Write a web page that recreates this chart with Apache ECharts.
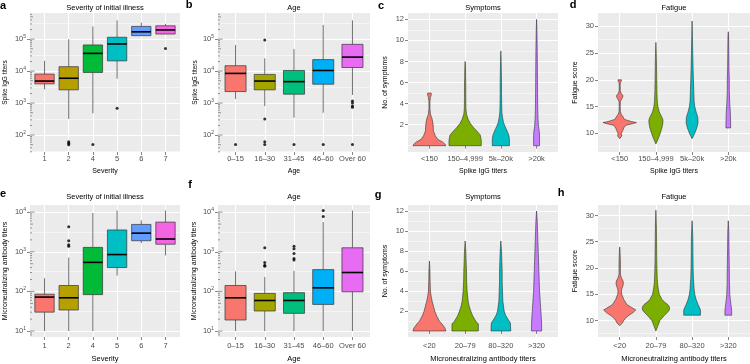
<!DOCTYPE html>
<html><head><meta charset="utf-8">
<script src="https://cdn.jsdelivr.net/npm/echarts@6/dist/echarts.min.js"></script>
<style>html,body{margin:0;padding:0;background:#fff}#c{width:750px;height:364px}</style>
</head><body><div id="c"></div>
<script>
// ---------- categories ----------
const severityCats = ['1', '2', '4', '5', '6', '7'];
const ageCats = ['0–15', '16–30', '31–45', '46–60', 'Over 60'];
const spikeGroupCats = ['<150', '150–4,999', '5k–20k', '>20k'];
const neutGroupCats = ['<20', '20–79', '80–320', '>320'];

// ---------- box statistics [min, Q1, median, Q3, max] (titers) ----------
const spikeIgGBySeverity = [
  [2700, 4000, 4900, 8100, 21000],
  [320, 2600, 6000, 13800, 100000],
  [480, 9100, 36000, 66000, 250000],
  [5800, 21000, 71000, 115000, 390000],
  [126000, 129000, 170000, 251000, 331000],
  [145000, 145000, 195000, 263000, 302000]
];
const spikeIgGBySeverityOutliers = [['2', 62], ['2', 55], ['2', 50], ['4', 51], ['5', 690], ['7', 51000]];

const spikeIgGByAge = [
  [1350, 2300, 8500, 14800, 66000],
  [810, 2600, 4900, 7900, 25000],
  [350, 1900, 4700, 10500, 49000],
  [500, 3900, 10500, 23000, 280000],
  [1800, 13000, 27500, 69000, 390000]
];
const spikeIgGByAgeOutliers = [['0–15', 51], ['16–30', 95000], ['16–30', 320], ['16–30', 62], ['16–30', 51],
  ['31–45', 51], ['46–60', 51], ['Over 60', 1170], ['Over 60', 1000], ['Over 60', 810], ['Over 60', 740], ['Over 60', 51]];

const neutBySeverity = [
  [10, 30, 72, 85, 215],
  [10, 34, 69, 141, 710],
  [10, 83, 540, 1290, 9500],
  [250, 400, 850, 3550, 11000],
  [1660, 1900, 2950, 4900, 6200],
  [810, 1550, 2100, 5600, 11000]
];
const neutBySeverityOutliers = [['2', 4300], ['2', 1900], ['2', 1500], ['2', 1380]];

const neutByAge = [
  [10, 19, 69, 141, 320],
  [10, 32, 59, 89, 230],
  [10, 28, 59, 93, 330],
  [10, 47, 123, 355, 5600],
  [10, 98, 300, 1260, 11000]
];
const neutByAgeOutliers = [['16–30', 1260], ['16–30', 540], ['16–30', 460], ['16–30', 430],
  ['31–45', 1380], ['31–45', 1200], ['31–45', 910], ['31–45', 680], ['31–45', 620],
  ['46–60', 11000], ['46–60', 7800]];

// ---------- violin profiles: [value, relative density] ----------
const symptomsBySpikeIgG = [
  [[0, 50], [0.12, 48], [0.35, 40], [0.6, 25], [0.93, 18], [1.4, 12], [2.05, 11], [2.55, 8], [3.0, 3], [3.5, 1.5], [4.2, 1.5], [4.6, 3], [4.85, 6], [5.0, 5]],
  [[0, 49], [0.5, 49], [1.0, 46], [1.3, 38], [1.7, 26], [2.1, 16], [2.5, 9], [3.0, 4], [3.5, 2.5], [4.5, 2], [5.5, 2], [6.5, 1.5], [7.5, 1], [8, 0]],
  [[0, 26], [0.6, 26], [1.0, 24], [1.4, 19], [1.8, 13], [2.2, 8], [2.7, 5], [3.2, 3], [4, 2.5], [5, 2], [6, 2], [7, 1.5], [8, 1], [9, 0]],
  [[0, 9], [1.0, 9], [1.4, 8], [1.8, 6], [2.5, 4.5], [3.5, 3.5], [5, 3], [7, 2.5], [9, 2], [11, 1], [12, 0]]
];
const fatigueBySpikeIgG = [
  [[9, 0], [9.5, 6], [10, 5], [10.5, 9], [11, 12], [11.5, 18], [11.8, 38], [12, 50], [12.2, 35], [12.6, 14], [13, 11], [13.5, 5], [14, 2], [15, 1.5], [16, 2], [16.5, 7], [17, 10], [17.5, 4], [18, 1.5], [19, 1.5], [19.5, 2], [19.8, 5], [20, 5]],
  [[8, 0], [9, 7], [10, 13], [11, 18], [12, 21], [12.5, 21], [13, 18], [14, 10], [15, 6], [16, 4], [18, 3], [20, 2.5], [22, 2], [24, 1.5], [27, 0]],
  [[9, 0], [10, 8], [11, 14], [12, 18], [13, 17], [14, 12], [15, 8], [16, 6], [18, 5], [20, 4], [22, 3], [25, 2], [28, 1], [31, 0]],
  [[11, 7], [12, 7], [13, 6.5], [14, 6], [15, 5], [16, 4], [18, 3], [20, 3], [22, 2], [25, 1.5], [28, 1], [29, 0]]
];
const symptomsByNeut = [
  [[0, 50], [0.3, 47], [0.7, 38], [1.0, 30], [1.5, 22], [2.0, 16], [2.5, 12], [3.0, 8], [3.5, 5], [4.0, 3], [5.0, 2], [6.0, 1.5], [7.0, 0]],
  [[0, 40], [0.7, 40], [1.0, 32], [1.5, 23], [2.0, 17], [2.5, 12], [3.0, 9], [4.0, 6], [5.0, 4.5], [6.0, 4], [7.0, 3], [8.0, 2], [9.0, 0]],
  [[0, 30], [0.8, 29], [1.2, 21], [1.6, 14], [2.0, 10], [3.0, 6], [4.0, 5], [5.0, 4], [6.0, 4], [7.0, 3], [8.0, 2], [9.0, 0]],
  [[0, 15.5], [1.0, 15], [2.0, 13], [3.0, 11], [4.0, 9], [5.0, 8], [6.0, 7], [7.0, 6], [8.0, 5], [9.0, 4], [10.0, 3], [11.0, 2], [12.0, 0]]
];
const fatigueByNeut = [
  [[9, 0], [9.5, 8], [10, 12], [10.5, 18], [11, 28], [11.5, 40], [12, 48], [12.5, 35], [13, 22], [14, 12], [15, 6], [15.5, 5], [16, 6], [16.5, 9], [17, 11], [17.5, 10], [18, 6], [18.5, 3], [19, 2], [21, 2], [23, 1], [24, 0]],
  [[8, 0], [9, 6], [10, 12], [11, 26], [11.5, 34], [12, 40], [12.5, 41], [13, 36], [13.5, 26], [14, 18], [15, 10], [16, 7], [17, 5], [18, 4], [20, 3], [22, 2.5], [25, 2], [28, 1.5], [31, 0]],
  [[11, 25], [12, 25], [12.5, 22], [13, 18], [14, 12], [15, 8], [16, 6], [18, 4], [20, 3], [23, 2.5], [26, 2], [29, 0]],
  [[11, 10], [12, 10], [13, 8], [14, 6], [15, 4.5], [17, 3.5], [20, 3], [24, 2], [27, 1.5], [29, 0]]
];

// ---------- axis breaks ----------
const symptomMajor = [2, 4, 6, 8, 10, 12];
const symptomMinor = [0, 1, 3, 5, 7, 9, 11];
const fatigueMajor = [10, 15, 20, 25, 30];
const fatigueMinor = [7.5, 12.5, 17.5, 22.5, 27.5];

// ---------- styling ----------
const FONT = '"Liberation Sans", Arial, Helvetica, sans-serif';
const hue6 = ['#F8766D', '#B79F00', '#00BA38', '#00BFC4', '#619CFF', '#F564E3'];
const hue5 = ['#F8766D', '#A3A500', '#00BF7D', '#00B0F6', '#E76BF3'];
const hue4 = ['#F8766D', '#7CAE00', '#00BFC4', '#C77CFF'];
const DENS_SCALE = 1 / 108.3;

const row1 = { top: 13, height: 139, titleY: 8, xMargin: 3, xNameGap: 16, tickFont: 7.5, nameFont: 7 };
const row2 = { top: 205, height: 134, titleY: 197, xMargin: 5, xNameGap: 18, tickFont: 7.5, nameFont: 7.5 };
const cols = [{ left: 30, width: 150 }, { left: 218, width: 152 }, { left: 408, width: 150 }, { left: 598, width: 152 }];

const panels = [
  { letter: 'a', lx: 3, ly: 6, row: row1, col: cols[0], kind: 'box', cats: severityCats, stats: spikeIgGBySeverity, outliers: spikeIgGBySeverityOutliers, palette: hue6, boxW: 0.8,
    title: 'Severity of initial illness', xName: 'Severity', yName: 'Spike IgG titers', log: true, yRange: [1.47, 5.82], yNameGap: 21, yNameFont: 6.5 },
  { letter: 'b', lx: 189, ly: 5, row: row1, col: cols[1], kind: 'box', cats: ageCats, stats: spikeIgGByAge, outliers: spikeIgGByAgeOutliers, palette: hue5, boxW: 0.72,
    title: 'Age', xName: 'Age', yName: 'Spike IgG titers', log: true, yRange: [1.47, 5.82], yNameGap: 19, yNameFont: 6.5 },
  { letter: 'c', lx: 381, ly: 6, row: row1, col: cols[2], kind: 'violin', cats: spikeGroupCats, profiles: symptomsBySpikeIgG, palette: hue4,
    title: 'Symptoms', xName: 'Spike IgG titers', yName: 'No. of symptoms', major: symptomMajor, minor: symptomMinor, yRange: [-0.6, 12.6], yNameGap: 19, yNameFont: 7 },
  { letter: 'd', lx: 573, ly: 5, row: row1, col: cols[3], kind: 'violin', cats: spikeGroupCats, profiles: fatigueBySpikeIgG, palette: hue4,
    title: 'Fatigue', xName: 'Spike IgG titers', yName: 'Fatigue score', major: fatigueMajor, minor: fatigueMinor, yRange: [6.5, 32.5], yNameGap: 19, yNameFont: 7 },
  { letter: 'e', lx: 3, ly: 194, row: row2, col: cols[0], kind: 'box', cats: severityCats, stats: neutBySeverity, outliers: neutBySeverityOutliers, palette: hue6, boxW: 0.8,
    title: 'Severity of initial illness', xName: 'Severity', yName: 'Microneutralizing antibody titers', log: true, yRange: [0.85, 4.18], yNameGap: 21, yNameFont: 7 },
  { letter: 'f', lx: 190, ly: 185, row: row2, col: cols[1], kind: 'box', cats: ageCats, stats: neutByAge, outliers: neutByAgeOutliers, palette: hue5, boxW: 0.72,
    title: 'Age', xName: 'Age', yName: 'Microneutralizing antibody titers', log: true, yRange: [0.85, 4.18], yNameGap: 20, yNameFont: 7 },
  { letter: 'g', lx: 378, ly: 195, row: row2, col: cols[2], kind: 'violin', cats: neutGroupCats, profiles: symptomsByNeut, palette: hue4,
    title: 'Symptoms', xName: 'Microneutralizing antibody titers', yName: 'No. of symptoms', major: symptomMajor, minor: symptomMinor, yRange: [-0.6, 12.6], yNameGap: 19, yNameFont: 7 },
  { letter: 'h', lx: 561, ly: 193, row: row2, col: cols[3], kind: 'violin', cats: neutGroupCats, profiles: fatigueByNeut, palette: hue4,
    title: 'Fatigue', xName: 'Microneutralizing antibody titers', yName: 'Fatigue score', major: fatigueMajor, minor: fatigueMinor, yRange: [6.85, 32.0], yNameGap: 19, yNameFont: 7 }
];

function intsIn(lo, hi, off) { const r = []; for (let v = Math.ceil(lo - off) + off; v <= hi; v += 1) r.push(v); return r; }

const grids = [], xAxes = [], yAxes = [], series = [], graphics = [];

panels.forEach((p, i) => {
  const n = p.cats.length;
  const idx = p.cats.map((_, k) => k + 1);
  const [ymin, ymax] = p.yRange;
  const major = p.log ? intsIn(ymin, ymax, 0) : p.major;
  const minor = p.log ? intsIn(ymin, ymax, 0.5) : p.minor;
  const tf = p.row.tickFont;

  grids.push({ left: p.col.left, top: p.row.top, width: p.col.width, height: p.row.height, show: true, backgroundColor: '#EBEBEB', borderWidth: 0 });

  xAxes.push({
    gridIndex: i, type: 'value', min: 0.4, max: n + 0.6,
    axisLine: { show: false },
    axisTick: { show: true, length: 3, customValues: idx, lineStyle: { color: '#333', width: 0.6 } },
    axisLabel: { customValues: idx, formatter: v => p.cats[Math.round(v) - 1], fontSize: tf, color: '#4D4D4D', margin: p.row.xMargin, fontFamily: FONT },
    splitLine: { show: true, lineStyle: { color: '#FFFFFF', width: 1.1 } },
    name: p.xName, nameLocation: 'middle', nameGap: p.row.xNameGap,
    nameTextStyle: { fontSize: p.row.nameFont, color: '#000', fontFamily: FONT }
  });

  const labelCfg = p.log
    ? { formatter: v => '{b|10}{s|' + Math.round(v) + '}',
        rich: { b: { fontSize: tf, color: '#4D4D4D', fontFamily: FONT, lineHeight: 10 },
                s: { fontSize: 5, color: '#4D4D4D', fontFamily: FONT, verticalAlign: 'top', lineHeight: 10, padding: [0, 0, 3, 0] } } }
    : { formatter: v => String(v) };

  yAxes.push(Object.assign({
    gridIndex: i, type: 'value', min: ymin, max: ymax, position: 'left',
    axisLine: { show: false },
    axisTick: { show: true, length: 3, customValues: major, lineStyle: { color: '#333', width: 0.6 } },
    axisLabel: Object.assign({ customValues: major, fontSize: tf, color: '#4D4D4D', margin: 4, fontFamily: FONT }, labelCfg),
    splitLine: { show: true, lineStyle: { color: '#FFFFFF', width: 1.1 } },
    name: p.yName, nameLocation: 'middle', nameGap: p.yNameGap,
    nameTextStyle: { fontSize: p.yNameFont, color: '#000', fontFamily: FONT }
  }));
  yAxes.push({
    gridIndex: i, type: 'value', min: ymin, max: ymax, position: 'left',
    axisLine: { show: false },
    axisTick: { show: false, customValues: minor },
    axisLabel: { show: false, customValues: minor },
    splitLine: { show: true, lineStyle: { color: '#FFFFFF', width: 0.5 } }
  });
  const yi = yAxes.length - 2;

  if (p.kind === 'box') {
    const L = Math.log10;
    const hw = p.boxW / 2;
    series.push({
      type: 'custom', xAxisIndex: i, yAxisIndex: yi,
      encode: { x: 0, y: [1, 2, 3, 4, 5] },
      data: p.stats.map((s, k) => [k + 1, L(s[0]), L(s[1]), L(s[2]), L(s[3]), L(s[4])]),
      renderItem: (params, api) => {
        const x = api.value(0);
        const mn = api.value(1), q1 = api.value(2), md = api.value(3), q3 = api.value(4), mx = api.value(5);
        const cMin = api.coord([x, mn]), cQ1 = api.coord([x, q1]), cQ3 = api.coord([x, q3]), cMax = api.coord([x, mx]);
        const l = api.coord([x - hw, md]), r = api.coord([x + hw, md]);
        const col = p.palette[params.dataIndex];
        return { type: 'group', children: [
          { type: 'line', shape: { x1: cMin[0], y1: cMin[1], x2: cQ1[0], y2: cQ1[1] }, style: { stroke: '#333', lineWidth: 0.7 } },
          { type: 'line', shape: { x1: cQ3[0], y1: cQ3[1], x2: cMax[0], y2: cMax[1] }, style: { stroke: '#333', lineWidth: 0.7 } },
          { type: 'rect', shape: { x: l[0], y: cQ3[1], width: r[0] - l[0], height: Math.max(cQ1[1] - cQ3[1], 0.5) }, style: { fill: col, stroke: '#333', lineWidth: 0.7 } },
          { type: 'line', shape: { x1: l[0], y1: l[1], x2: r[0], y2: r[1] }, style: { stroke: '#000', lineWidth: 1.6 } }
        ] };
      }
    });
    series.push({
      type: 'scatter', xAxisIndex: i, yAxisIndex: yi, symbolSize: 3, silent: true,
      itemStyle: { color: '#000' },
      data: p.outliers.map(([c, v]) => [p.cats.indexOf(c) + 1, Math.log10(v)])
    });
    // log tick annotations on left edge
    const ticks = [];
    for (let e = Math.floor(ymin); e <= Math.ceil(ymax); e++) {
      for (let k = 1; k <= 9; k++) {
        const v = e + Math.log10(k);
        if (v >= ymin && v <= ymax) ticks.push([1, v, k === 1 ? 0 : (k === 5 ? 1 : 2)]);
      }
    }
    series.push({
      type: 'custom', xAxisIndex: i, yAxisIndex: yi, encode: { x: 0, y: 1 }, silent: true,
      data: ticks,
      renderItem: (params, api) => {
        const y = api.coord([1, api.value(1)])[1];
        const x0 = params.coordSys.x;
        const len = [4.5, 3, 2][api.value(2)];
        return { type: 'line', shape: { x1: x0, y1: y, x2: x0 + len, y2: y }, style: { stroke: '#555', lineWidth: 0.6 } };
      }
    });
  } else {
    series.push({
      type: 'custom', xAxisIndex: i, yAxisIndex: yi,
      encode: { x: 0, y: [1, 2] },
      data: p.profiles.map((prof, k) => [k + 1, prof[0][0], prof[prof.length - 1][0]]),
      renderItem: (params, api) => {
        const prof = p.profiles[params.dataIndex];
        const cx = api.value(0);
        const left = prof.map(([v, d]) => api.coord([cx - d * DENS_SCALE, v]));
        const right = prof.slice().reverse().map(([v, d]) => api.coord([cx + d * DENS_SCALE, v]));
        return { type: 'polygon', shape: { points: left.concat(right) },
          style: { fill: p.palette[params.dataIndex], stroke: '#333', lineWidth: 0.6 } };
      }
    });
  }

  graphics.push({ type: 'text', x: p.col.left + p.col.width / 2, y: p.row.titleY,
    style: { text: p.title, fontSize: 7.5, fill: '#000', font: '7.5px ' + FONT, textAlign: 'center', textVerticalAlign: 'middle' } });
  graphics.push({ type: 'text', x: p.lx, y: p.ly,
    style: { text: p.letter, fill: '#000', font: 'bold 11px ' + FONT, textAlign: 'center', textVerticalAlign: 'middle' } });
});

const chart = echarts.init(document.getElementById('c'), null, { renderer: 'canvas' });
chart.setOption({
  animation: false,
  backgroundColor: '#FFFFFF',
  textStyle: { fontFamily: FONT },
  grid: grids, xAxis: xAxes, yAxis: yAxes, series: series, graphic: graphics
});
</script>
</body></html>
